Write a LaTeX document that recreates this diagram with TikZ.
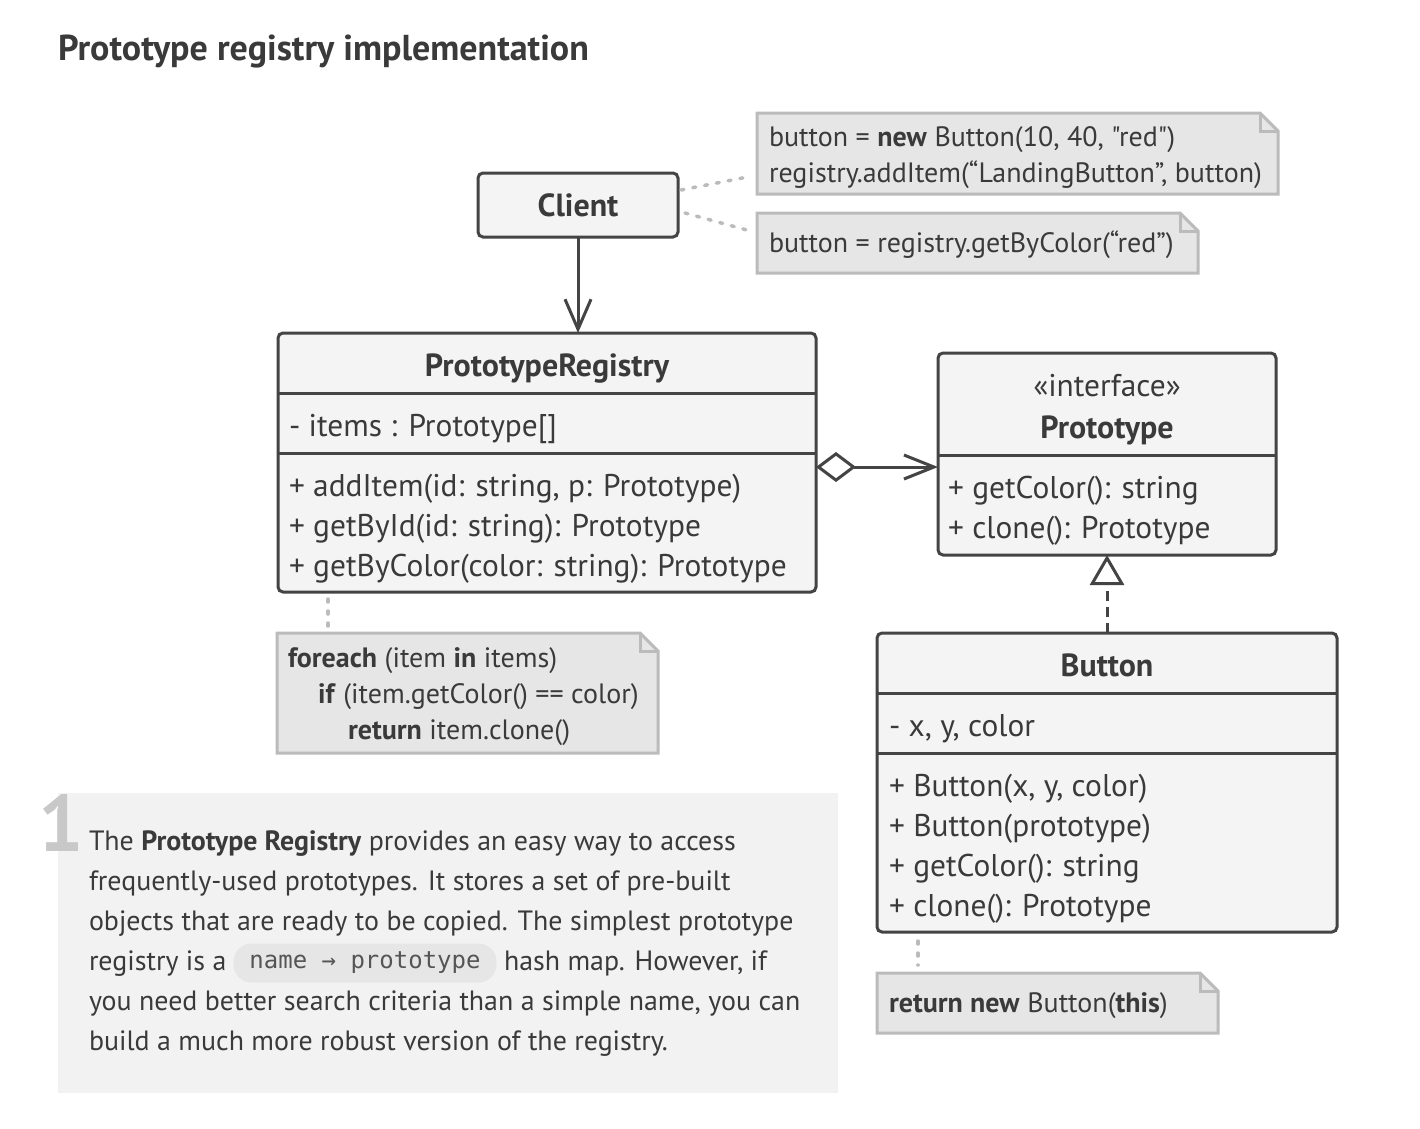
\documentclass[tikz,border=0pt]{standalone}
\usepackage{fontspec}
\setmainfont{PT Sans}[Ligatures=TeXOff]
\setmonofont{DejaVu Sans Mono}
\usetikzlibrary{arrows.meta,calc}
\definecolor{ink}{HTML}{444444}
\definecolor{txt}{HTML}{3A3A3A}
\definecolor{boxfill}{HTML}{F4F4F4}
\definecolor{notefill}{HTML}{E6E6E6}
\definecolor{noteline}{HTML}{BBBBBB}
\definecolor{panel}{HTML}{F2F2F2}
\definecolor{numgray}{HTML}{C8C8C8}
\definecolor{pillfill}{HTML}{E6E6E6}
\definecolor{pilltxt}{HTML}{555555}
\newcommand\notefold[1]{%
  \filldraw[fill=notefill, draw=noteline, line width=3pt] (#1.north west) -- ($(#1.north east)+(-18,0)$) -- ($(#1.north east)+(0,18)$) -- (#1.south east) -- (#1.south west) -- cycle;
  \draw[noteline, line width=3pt] ($(#1.north east)+(-18,0)$) -- ($(#1.north east)+(-18,18)$) -- ($(#1.north east)+(0,18)$);}
\begin{document}
\begin{tikzpicture}[x=1pt,y=-1pt,
  every node/.style={inner sep=0pt, outer sep=0pt, text=txt},
  cls/.style={draw=ink, line width=3pt, fill=boxfill, rounded corners=5pt, anchor=north west},
  sep/.style={draw=ink, line width=3pt},
  uml/.style={font=\fontsize{31.4}{36}\selectfont, anchor=base west},
  umlc/.style={font=\fontsize{31.4}{36}\selectfont, anchor=base},
  umlb/.style={font=\fontsize{32}{36}\selectfont\bfseries, anchor=base},
  notetxt/.style={font=\fontsize{28}{32}\selectfont, anchor=base west},
  notebox/.style={anchor=north west, draw=none, fill=none},
  dots/.style={draw=noteline, line width=3.5pt, dash pattern=on 3pt off 9pt, line cap=round},
  para/.style={font=\fontsize{27.9}{32}\selectfont, anchor=base west},
  conn/.style={draw=ink, line width=3pt},
]
\useasboundingbox[fill=white] (0,0) rectangle (1420,1128);

% title
\node[font=\fontsize{36}{40}\selectfont\bfseries, anchor=base west] (title) at (58,60) {Prototype registry implementation};

% notes (shapes)
\node[notebox, minimum width=521pt, minimum height=81pt] (n1) at (757,113) {};
\node[notebox, minimum width=441pt, minimum height=60pt] (n2) at (757,213) {};
\node[notebox, minimum width=381pt, minimum height=120pt] (n3) at (277,633) {};
\node[notebox, minimum width=341pt, minimum height=60pt] (n4) at (877,973) {};
\notefold{n1}
\notefold{n2}
\notefold{n3}
\notefold{n4}

\node[notetxt] (n1a) at (769,146) {button = \textbf{new} Button(10, 40, "red")};
\node[notetxt] (n1b) at (769,182) {registry.addItem(“LandingButton”, button)};
\node[notetxt] (n2a) at (769,252) {button = registry.getByColor(“red”)};
\node[notetxt] (n3a) at (288,667) {\textbf{foreach} (item \textbf{in} items)};
\node[notetxt] (n3b) at (318,703) {\textbf{if} (item.getColor() == color)};
\node[notetxt] (n3c) at (348,739) {\textbf{return} item.clone()};
\node[notetxt] (n4a) at (889,1012) {\textbf{return new} Button(\textbf{this})};

% Client
\node[cls, minimum width=200pt, minimum height=64pt, font=\fontsize{32}{36}\selectfont\bfseries] (client) at (478,173) {Client};

% PrototypeRegistry
\node[cls, minimum width=538pt, minimum height=259pt] (reg) at (278,333) {};
\coordinate (r1) at (0,393);
\coordinate (r2) at (0,453);
\draw[sep] (reg.west |- r1) -- (reg.east |- r1);
\draw[sep] (reg.west |- r2) -- (reg.east |- r2);
\node[umlb] (regT) at (547,376) {PrototypeRegistry};
\node[uml] (regF) at (289,436) {- items : Prototype[]};
\node[uml] (regM1) at (289,496) {+ addItem(id: string, p: Prototype)};
\node[uml] (regM2) at (289,536) {+ getById(id: string): Prototype};
\node[uml] (regM3) at (289,576) {+ getByColor(color: string): Prototype};

% Prototype interface
\node[cls, minimum width=338pt, minimum height=202pt] (proto) at (938,353) {};
\coordinate (p1) at (0,455);
\draw[sep] (proto.west |- p1) -- (proto.east |- p1);
\node[umlc] (protoS) at (1107,396) {«interface»};
\node[umlb] (protoT) at (1107,438) {Prototype};
\node[uml] (protoM1) at (948,498) {+ getColor(): string};
\node[uml] (protoM2) at (948,538) {+ clone(): Prototype};

% Button
\node[cls, minimum width=460pt, minimum height=299pt] (button) at (877,633) {};
\coordinate (b1) at (0,693);
\coordinate (b2) at (0,753);
\draw[sep] (button.west |- b1) -- (button.east |- b1);
\draw[sep] (button.west |- b2) -- (button.east |- b2);
\node[umlb] (buttonT) at (1107,676) {Button};
\node[uml] (buttonF) at (889,736) {- x, y, color};
\node[uml] (buttonM1) at (889,796) {+ Button(x, y, color)};
\node[uml] (buttonM2) at (889,836) {+ Button(prototype)};
\node[uml] (buttonM3) at (889,876) {+ getColor(): string};
\node[uml] (buttonM4) at (889,916) {+ clone(): Prototype};

% connectors
\draw[conn, -{Straight Barb[length=30pt, width=26pt, line width=3pt]}] (client.south) -- (client.south |- reg.north);
\coordinate (aggy) at (0,467);
\draw[conn, {Diamond[open, length=40pt, width=30pt, line width=3pt]}-{Straight Barb[length=30pt, width=24pt, line width=3pt]}] (reg.east |- aggy) -- (proto.west |- aggy);
\draw[conn, dash pattern=on 10pt off 6pt, -{Triangle[open, length=30pt, width=34pt, line width=3pt]}] (button.north) -- (proto.south);

% dotted note links
\draw[dots] ($(client.east)+(3,-15)$) -- ($(n1.west)+(-7,23)$);
\draw[dots] ($(client.east)+(7,8)$) -- ($(n2.west)+(-3,-11)$);
\coordinate (d3) at (328,0);
\draw[dots] ($(reg.south -| d3)+(0,7)$) -- ($(n3.north -| d3)+(0,-6)$);
\coordinate (d4) at (918,0);
\draw[dots] ($(button.south -| d4)+(0,9)$) -- ($(n4.north -| d4)+(0,-8)$);

% explanation panel
\node[anchor=north west, fill=panel, minimum width=780pt, minimum height=300pt] (panel) at (58,793) {};
\node[font=\fontsize{80}{80}\selectfont\bfseries, text=numgray, anchor=base west] (num) at (38,851) {1};
\node[para] (p1) at (89,850) {The \textbf{Prototype Registry} provides an easy way to access};
\node[para] (p2) at (89,890) {frequently-used prototypes. It stores a set of pre-built};
\node[para] (p3) at (89,930) {objects that are ready to be copied. The simplest prototype};
\node[para] (p4a) at (89,970) {registry is a};
\node[fill=pillfill, rounded corners=18pt, minimum width=263pt, minimum height=39pt, text=pilltxt, font=\ttfamily\fontsize{24}{26}\selectfont] (pill) at (365,963) {name → prototype};
\node[para] (p4b) at (504,970) {hash map. However, if};
\node[para] (p5) at (89,1010) {you need better search criteria than a simple name, you can};
\node[para] (p6) at (89,1050) {build a much more robust version of the registry.};
\end{tikzpicture}
\end{document}
